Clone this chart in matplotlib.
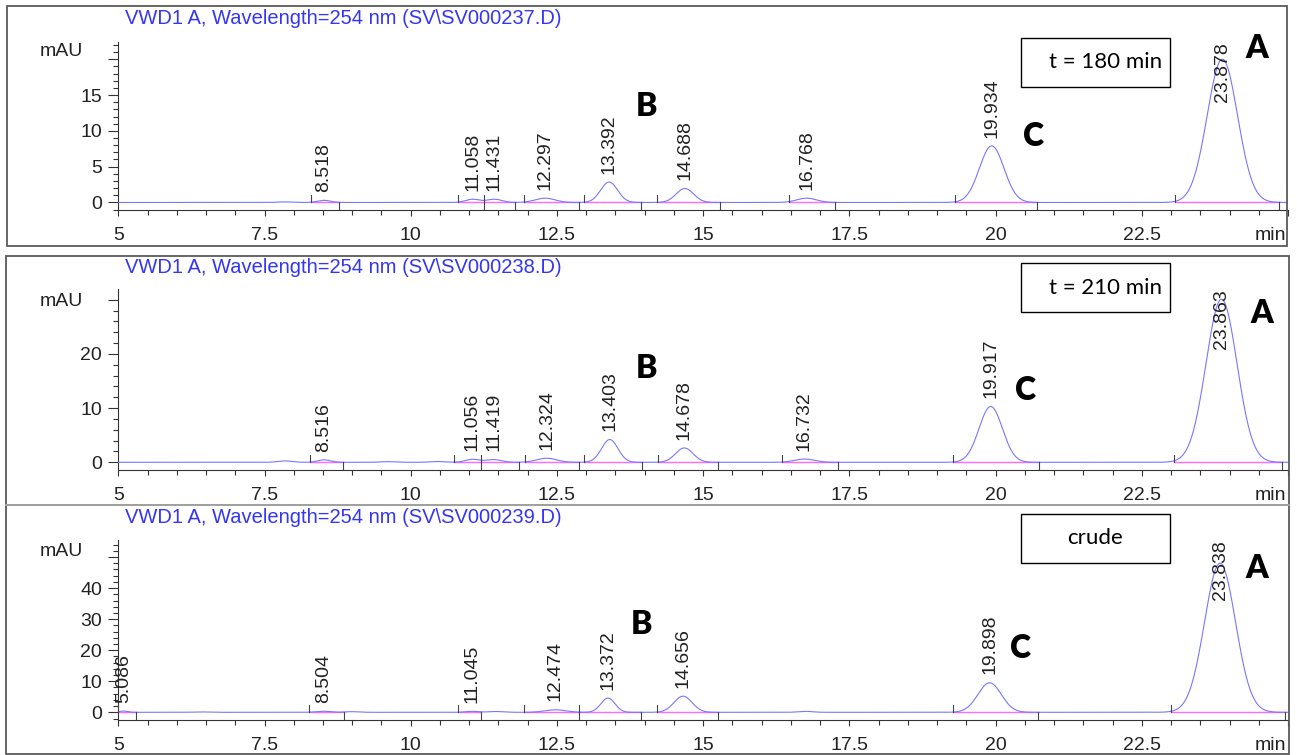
import numpy as np
import matplotlib
matplotlib.use("Agg")
import matplotlib.pyplot as plt
from matplotlib.patches import Rectangle
from matplotlib.ticker import MultipleLocator, FixedLocator, FuncFormatter

W, H = 1297, 755

# ---------------- data ----------------
titles = ["VWD1 A, Wavelength=254 nm (SV\\SV000237.D)",
          "VWD1 A, Wavelength=254 nm (SV\\SV000238.D)",
          "VWD1 A, Wavelength=254 nm (SV\\SV000239.D)"]
sample_labels = ["t = 180 min", "t = 210 min", "crude"]

# panel 1 : t = 180 min
p1_rt = [8.518, 11.058, 11.431, 12.297, 13.392, 14.688, 16.768, 19.934, 23.878]
p1_height = [0.30, 0.45, 0.45, 0.60, 2.85, 1.95, 0.60, 7.90, 20.0]
p1_sigma = [0.11, 0.12, 0.13, 0.17, 0.145, 0.15, 0.17, 0.21, 0.26]
p1_start = [8.30, 10.80, 11.26, 11.93, 12.97, 14.21, 16.46, 19.30, 23.06]
p1_end = [8.78, 11.26, 11.79, 12.87, 13.93, 15.29, 17.26, 20.71, 24.85]
p1_minor_rt = [7.85]
p1_minor_height = [0.08]

# panel 2 : t = 210 min
p2_rt = [8.516, 11.056, 11.419, 12.324, 13.403, 14.678, 16.732, 19.917, 23.863]
p2_height = [0.45, 0.55, 0.50, 0.75, 4.20, 2.65, 0.60, 10.3, 30.1]
p2_sigma = [0.11, 0.12, 0.13, 0.17, 0.14, 0.15, 0.17, 0.20, 0.265]
p2_start = [8.27, 10.74, 11.21, 11.96, 12.97, 14.23, 16.35, 19.28, 23.05]
p2_end = [8.84, 11.21, 11.85, 12.88, 13.95, 15.25, 17.30, 20.74, 24.90]
p2_minor_rt = [7.85, 9.60, 10.45]
p2_minor_height = [0.25, 0.12, 0.15]

# panel 3 : crude
p3_rt = [5.086, 8.504, 11.045, 12.474, 13.372, 14.656, 19.898, 23.838]
p3_height = [0.40, 0.35, 0.30, 0.80, 4.60, 5.20, 9.50, 48.0]
p3_sigma = [0.07, 0.12, 0.11, 0.18, 0.12, 0.155, 0.20, 0.265]
p3_start = [5.00, 8.26, 10.80, 11.94, 12.88, 14.21, 19.28, 23.00]
p3_end = [5.30, 8.86, 11.21, 12.88, 13.93, 15.25, 20.72, 24.95]
p3_minor_rt = [6.40, 9.00, 11.45, 16.75]
p3_minor_height = [0.12, 0.20, 0.25, 0.30]

panels = [
    dict(rt=p1_rt, h=p1_height, s=p1_sigma, st=p1_start, en=p1_end,
         mrt=p1_minor_rt, mh=p1_minor_height),
    dict(rt=p2_rt, h=p2_height, s=p2_sigma, st=p2_start, en=p2_end,
         mrt=p2_minor_rt, mh=p2_minor_height),
    dict(rt=p3_rt, h=p3_height, s=p3_sigma, st=p3_start, en=p3_end,
         mrt=p3_minor_rt, mh=p3_minor_height),
]

# ---------------- layout (pixels) ----------------
ax_left, ax_right = 118.3, 1288.0
ax_geom = [  # (top_px, xaxis_px, ylim, major, minor)
    (42.0, 210.0, (-1.05, 22.4), 5, 1),
    (289.0, 470.0, (-1.42, 31.98), 10, 2),
    (540.0, 720.0, (-2.48, 55.5), 10, 2),
]
title_y = [18.3, 267.3, 517.3]
mau_y = [51.7, 301.7, 551.7]
boxes = [(1020.7, 37.7, 1170.0, 87.3), (1020.7, 263.3, 1170.0, 312.3),
         (1020.7, 514.0, 1170.0, 562.7)]
letters = [
    [("A", 1256.7, 48.3), ("B", 646.7, 106.7), ("C", 1033.3, 136.7)],
    [("A", 1261.7, 313.3), ("B", 646.7, 368.3), ("C", 1026.0, 390.0)],
    [("A", 1256.7, 568.3), ("B", 641.7, 625.0), ("C", 1020.7, 648.3)],
]

TRACE = "#7777ff"
BASE = "#ff6aff"
TITLE_C = "#3535f5"
INK = "#222222"
AXC = "#333333"

plt.rcParams["font.family"] = ["Liberation Sans", "DejaVu Sans"]

fig = plt.figure(figsize=(W / 100, H / 100), dpi=100)
fig.patch.set_facecolor("white")


def fx(x):
    return x / W


def fy(y):
    return 1 - y / H


# panel frames
frame_rects = [(6.7, 6.0, 1287.3, 246.0), (5.7, 255.7, 1289.3, 505.0),
               (5.7, 505.0, 1289.0, 753.5)]
for i, (x0, y0, x1, y1) in enumerate(frame_rects):
    fig.patches.append(Rectangle((fx(x0), fy(y1)), fx(x1) - fx(x0), fy(y0) - fy(y1),
                                 transform=fig.transFigure, fill=False,
                                 edgecolor="#5a5a5a", lw=1.3, zorder=0))
# lighter separator between panel 2 and 3
fig.add_artist(plt.Line2D([fx(5.7), fx(1289.3)], [fy(505.0), fy(505.0)],
                          transform=fig.transFigure, color="#a8a8a8", lw=1.3))

x = np.arange(5.0, 25.0001, 0.005)
axes = []
for i, (p, (top, xa, ylim, maj, mnr)) in enumerate(zip(panels, ax_geom)):
    ax = fig.add_axes([fx(ax_left), fy(xa), fx(ax_right) - fx(ax_left), fy(top) - fy(xa)])
    ax.set_facecolor("none")
    ax.set_xlim(5, 25)
    ax.set_ylim(*ylim)
    for s in ["top", "right"]:
        ax.spines[s].set_visible(False)
    for s in ["left", "bottom"]:
        ax.spines[s].set_color(AXC)
        ax.spines[s].set_linewidth(0.8)

    y = np.zeros_like(x)
    for rt, h, sg in zip(p["rt"], p["h"], p["s"]):
        y += h * np.exp(-0.5 * ((x - rt) / sg) ** 2)
    for rt, h in zip(p["mrt"], p["mh"]):
        y += h * np.exp(-0.5 * ((x - rt) / 0.12) ** 2)
    ax.plot(x, y, color=TRACE, lw=0.8, zorder=3)

    # integration baselines
    for st, en in zip(p["st"], p["en"]):
        ax.plot([st, en], [0, 0], color=BASE, lw=1.0, zorder=2.5)

    # integration marks (start up, end down)
    ppu = (xa - top) / (ylim[1] - ylim[0])
    mark = 7.0 / ppu
    for st, en in zip(p["st"], p["en"]):
        ax.plot([st, st], [0, mark], color="#444444", lw=0.8, zorder=4, clip_on=False)
        ax.plot([en, en], [0, -mark], color="#444444", lw=0.8, zorder=4, clip_on=False)

    # ticks
    ax.xaxis.set_major_locator(FixedLocator([5, 7.5, 10, 12.5, 15, 17.5, 20, 22.5, 25]))
    ax.xaxis.set_minor_locator(MultipleLocator(0.5))
    ax.xaxis.set_major_formatter(FuncFormatter(
        lambda v, pos: "" if v > 24 else ("%g" % v)))
    ax.yaxis.set_major_locator(MultipleLocator(maj))
    ax.yaxis.set_minor_locator(MultipleLocator(mnr))
    top_major = maj * np.floor(ylim[1] / maj)
    ax.yaxis.set_major_formatter(FuncFormatter(
        lambda v, pos, tm=top_major: "" if abs(v - tm) < 1e-6 else "%d" % round(v)))
    ax.tick_params(axis="x", which="major", direction="out", length=4.5, width=0.8,
                   color=AXC, labelsize=14, labelcolor=INK, pad=8)
    ax.tick_params(axis="x", which="minor", direction="out", length=3.6, width=0.8,
                   color=AXC)
    ax.tick_params(axis="y", which="major", direction="out", length=7.2, width=0.8,
                   color=AXC, labelsize=14, labelcolor=INK, pad=4.5)
    ax.tick_params(axis="y", which="minor", direction="out", length=3.6, width=0.8,
                   color=AXC)

    # peak labels
    for rt in p["rt"]:
        apex = float(np.interp(rt, x, y))
        t = ax.annotate("%.3f" % rt, xy=(rt, apex), xytext=(0, 6),
                        textcoords="offset points", rotation=90, ha="center",
                        va="bottom", fontsize=14, color=INK, zorder=5)
        t.set_gid("peaklabel")
    axes.append(ax)

    # texts
    fig.text(fx(125), fy(title_y[i]), titles[i], color=TITLE_C, fontsize=14.5,
             ha="left", va="center")
    fig.text(fx(40), fy(mau_y[i]), "mAU", color=INK, fontsize=14, ha="left",
             va="center")
    fig.text(fx(1286), fy(xa + 25), "min", color=INK, fontsize=14, ha="right",
             va="center")

    bx0, by0, bx1, by1 = boxes[i]
    fig.patches.append(Rectangle((fx(bx0), fy(by1)), fx(bx1) - fx(bx0), fy(by0) - fy(by1),
                                 transform=fig.transFigure, facecolor="white",
                                 edgecolor="black", lw=1.0, zorder=6))
    if i < 2:
        fig.text(fx(1162), fy((by0 + by1) / 2), sample_labels[i], fontsize=16,
                 family=["Lato", "DejaVu Sans"], ha="right", va="center", color="black",
                 zorder=7)
    else:
        fig.text(fx(1095), fy((by0 + by1) / 2), sample_labels[i], fontsize=16,
                 family=["Lato", "DejaVu Sans"], ha="center", va="center", color="black",
                 zorder=7)
    for lt, lx, ly in letters[i]:
        fig.text(fx(lx), fy(ly), lt, fontsize=23, family=["Lato", "DejaVu Sans"],
                 fontweight="heavy", ha="center", va="center", color="black", zorder=7)

# push labels that would overflow the plot top down inside it
fig.canvas.draw()
r = fig.canvas.get_renderer()
for ax in axes:
    axbb = ax.get_window_extent(r)
    for t in ax.texts:
        if t.get_gid() != "peaklabel":
            continue
        bb = t.get_window_extent(r)
        if bb.y1 > axbb.y1:
            rt = t.xy[0]
            t.set_position((0, 0))
            t.xy = (rt, ax.get_ylim()[1])
            t.set_va("top")

fig.savefig("out.png", dpi=100)
